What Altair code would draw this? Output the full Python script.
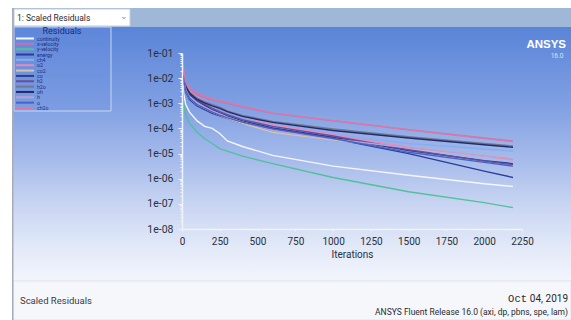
import altair as alt
import pandas as pd

# ---------------- data ----------------
iterations = [1, 10, 25, 50, 100, 150, 200, 250, 300, 400, 600, 1000, 1500, 2000, 2190]

series_names = ["continuity", "x-velocity", "y-velocity", "energy", "ch4", "o2", "co2",
                "co", "h2", "h2o", "oh", "h", "o", "ch2o"]
series_colors = ["#f4f6fb", "#c872b0", "#52c09a", "#2c3c98", "#86aef0", "#e48cbc", "#d6c6a8",
                 "#303c8c", "#6c4c9c", "#6e7890", "#222a6a", "#b8a0d4", "#4664c4", "#d87aa8"]

# log10 of the scaled residual at each iteration above
log_residuals = {
    "continuity": [-2.0, -2.6, -3.05, -3.35, -3.7, -3.92, -4.0, -4.2, -4.5, -4.72, -5.07, -5.5, -5.86, -6.2, -6.31],
    "x-velocity": [-1.4, -1.7, -2.2, -2.45, -2.65, -2.76, -2.85, -2.93, -3.0, -3.15, -3.4, -3.7, -4.05, -4.38, -4.5],
    "y-velocity": [-2.2, -3.0, -3.5, -3.8, -4.15, -4.4, -4.6, -4.8, -4.9, -5.1, -5.4, -5.95, -6.52, -6.95, -7.15],
    "energy":     [-1.7, -2.05, -2.55, -2.85, -3.1, -3.25, -3.4, -3.5, -3.6, -3.8, -4.0, -4.4, -5.0, -5.7, -5.95],
    "ch4":        [-1.5, -1.9, -2.4, -2.7, -2.95, -3.1, -3.25, -3.35, -3.45, -3.65, -3.95, -4.25, -4.6, -4.82, -4.9],
    "o2":         [-1.45, -1.75, -2.25, -2.5, -2.75, -2.9, -3.05, -3.17, -3.28, -3.5, -3.85, -4.25, -4.75, -5.1, -5.25],
    "co2":        [-1.6, -2.0, -2.5, -2.8, -3.05, -3.2, -3.35, -3.47, -3.6, -3.8, -4.15, -4.45, -4.8, -5.08, -5.18],
    "co":         [-1.55, -1.9, -2.4, -2.65, -2.9, -3.08, -3.25, -3.38, -3.5, -3.7, -3.98, -4.35, -4.88, -5.28, -5.4],
    "h2":         [-1.5, -1.85, -2.3, -2.6, -2.85, -3.03, -3.2, -3.33, -3.45, -3.65, -3.92, -4.3, -4.85, -5.3, -5.44],
    "h2o":        [-1.5, -1.8, -2.3, -2.55, -2.8, -2.93, -3.05, -3.15, -3.3, -3.48, -3.72, -4.02, -4.33, -4.6, -4.7],
    "oh":         [-1.5, -1.85, -2.35, -2.6, -2.85, -2.98, -3.1, -3.2, -3.33, -3.52, -3.76, -4.08, -4.38, -4.65, -4.75],
    "h":          [-1.6, -1.95, -2.45, -2.75, -3.0, -3.15, -3.3, -3.42, -3.55, -3.75, -4.1, -4.42, -4.78, -5.08, -5.2],
    "o":          [-1.65, -2.0, -2.5, -2.8, -3.05, -3.2, -3.35, -3.47, -3.58, -3.75, -4.02, -4.4, -4.95, -5.35, -5.5],
    "ch2o":       [-1.35, -1.65, -2.15, -2.4, -2.6, -2.72, -2.82, -2.9, -2.97, -3.12, -3.38, -3.68, -4.05, -4.4, -4.52],
}

x_ticks = [0, 250, 500, 750, 1000, 1250, 1500, 1750, 2000, 2250]
y_decades = [1e-1, 1e-2, 1e-3, 1e-4, 1e-5, 1e-6, 1e-7, 1e-8]
y_minor = [m * d for d in y_decades[1:] for m in range(2, 10)]

# ---------------- layout constants ----------------
W, H = 571, 320
OX, OY = 182, 53          # plot-area origin in page pixels
PW, PH = 340, 176         # plot-area size
NARROW = "Liberation Sans Narrow, Arial Narrow, Roboto, sans-serif"

rows = []
for name in series_names:
    for it, lv in zip(iterations, log_residuals[name]):
        rows.append({"series": name, "iter": it, "res": 10 ** lv})
df = pd.DataFrame(rows)

legend_df = pd.DataFrame({"series": series_names, "row": list(range(len(series_names)))})
one = pd.DataFrame({"a": [0]})

color_scale = alt.Scale(domain=series_names, range=series_colors)


def rect(x0, y0, x1, y1, **kw):
    return alt.Chart(one).mark_rect(**kw).encode(
        x=alt.value(x0 - OX), x2=alt.value(x1 - OX),
        y=alt.value(y0 - OY), y2=alt.value(y1 - OY))


def text(x, y, s, **kw):
    return alt.Chart(one).mark_text(**kw).encode(
        x=alt.value(x - OX), y=alt.value(y - OY), text=alt.value(s))


panel_grad = alt.LinearGradient(
    gradient="linear", x1=0, x2=0, y1=0, y2=1,
    stops=[alt.GradientStop(offset=0, color="#5a84d8"),
           alt.GradientStop(offset=0.3, color="#7f9fe2"),
           alt.GradientStop(offset=0.5, color="#a2b8ea"),
           alt.GradientStop(offset=0.7, color="#c8d5f2"),
           alt.GradientStop(offset=0.88, color="#e4eaf8"),
           alt.GradientStop(offset=1, color="#f2f5fc")])

deco = [
    rect(0, 0, W, H, color="#ffffff"),
    rect(13, 8, W, 27, color="#a0b8d8"),
    rect(14, 9, 130, 26, fill="#ffffff", stroke="#c4ccda", strokeWidth=1),
    rect(13, 27, W, 281, color=panel_grad),
    rect(13, 281, W, H, fill="#f6f7fa", stroke="#dde3ee", strokeWidth=1),
    rect(14, 27, 111, 111, fill="#6a90de", fillOpacity=0.25, stroke="#c8d6f2", strokeWidth=1),
    rect(12, 8, 13.5, H, color="#a8acb8"),
    text(17, 17.5, "1: Scaled Residuals", align="left", baseline="middle",
         fontSize=8.5, font=NARROW, color="#2a2a30"),
    text(124, 16, "⌄", align="center", baseline="middle", fontSize=9, color="#8890a0"),
    text(566, 45, "ANSYS", align="right", baseline="middle", fontSize=11.5,
         fontWeight="bold", font="Liberation Sans, Arial, sans-serif", color="#ffffff"),
    text(557, 56, "16.0", align="center", baseline="middle", fontSize=6.5,
         font=NARROW, color="#d8e2f8"),
    text(62, 31, "Residuals", align="center", baseline="middle", fontSize=9,
         font=NARROW, color="#1e2a78"),
    text(20, 301, "Scaled Residuals", align="left", baseline="middle", fontSize=9.5,
         font=NARROW, color="#3a3a44"),
    text(527, 299, "Oct", align="right", baseline="middle", fontSize=10.5,
         font="Liberation Mono, Courier New, monospace", color="#2a2a30"),
    text(568, 299, "04, 2019", align="right", baseline="middle", fontSize=10,
         font=NARROW, color="#2a2a30"),
    text(568, 312, "ANSYS Fluent Release 16.0 (axi, dp, pbns, spe, lam)", align="right",
         baseline="middle", fontSize=8.5, font=NARROW, color="#2a2a30"),
]

major_test = "abs(log(datum.value)/LN10 - round(log(datum.value)/LN10)) < 0.01"

lines = alt.Chart(df).mark_line(strokeWidth=1.4, clip=True).encode(
    x=alt.X("iter:Q", scale=alt.Scale(domain=[0, 2250], nice=False, zero=False),
            axis=alt.Axis(values=x_ticks, format="d", title="Iterations", grid=False, zindex=1,
                          labelOverlap=False, labelFlush=False,
                          labelFont=NARROW, labelFontSize=10, labelColor="#2a3040",
                          labelPadding=5, tickSize=2, tickColor="#eef2fa",
                          domainColor="#eef2fa", domainWidth=1.5,
                          titleFont=NARROW, titleFontSize=10, titleFontWeight="normal",
                          titleColor="#2a3040", titlePadding=3)),
    y=alt.Y("res:Q", scale=alt.Scale(type="log", domain=[1e-8, 1e-1], nice=False),
            axis=alt.Axis(values=y_decades + y_minor, title=None, grid=False, zindex=1,
                          labelExpr=major_test + " ? '1e-0' + format(-round(log(datum.value)/LN10), 'd') : ''",
                          labelFont=NARROW, labelFontSize=10.5, labelColor="#2a3040",
                          labelPadding=5,
                          tickSize={"condition": {"test": major_test, "value": 4}, "value": 2},
                          tickColor="#eef2fa", domainColor="#eef2fa", domainWidth=1.5,
                          labelOverlap=False)),
    color=alt.Color("series:N", scale=color_scale, legend=None),
)

leg_y = alt.Y("row:Q", scale=alt.Scale(domain=[0, len(series_names) - 1], range=[38.5 - OY, 108 - OY]),
              axis=None)
legend_lines = alt.Chart(legend_df).mark_rule(strokeWidth=2).encode(
    y=leg_y, x=alt.value(16 - OX), x2=alt.value(34 - OX),
    color=alt.Color("series:N", scale=color_scale, legend=None))
legend_text = alt.Chart(legend_df).mark_text(align="left", baseline="middle", fontSize=5.2,
                                             font=NARROW, color="#1e2a78").encode(
    y=leg_y, x=alt.value(37 - OX), text="series:N")

chart = alt.layer(*deco, lines, legend_lines, legend_text).resolve_scale(
    y="independent"
).properties(
    width=PW, height=PH,
    autosize=alt.AutoSizeParams(type="none"),
    padding={"left": OX, "top": OY, "right": W - OX - PW, "bottom": H - OY - PH},
    background="#ffffff",
).configure_view(strokeWidth=0)

chart.save("out.html", embed_options={"renderer": "svg", "actions": False})
